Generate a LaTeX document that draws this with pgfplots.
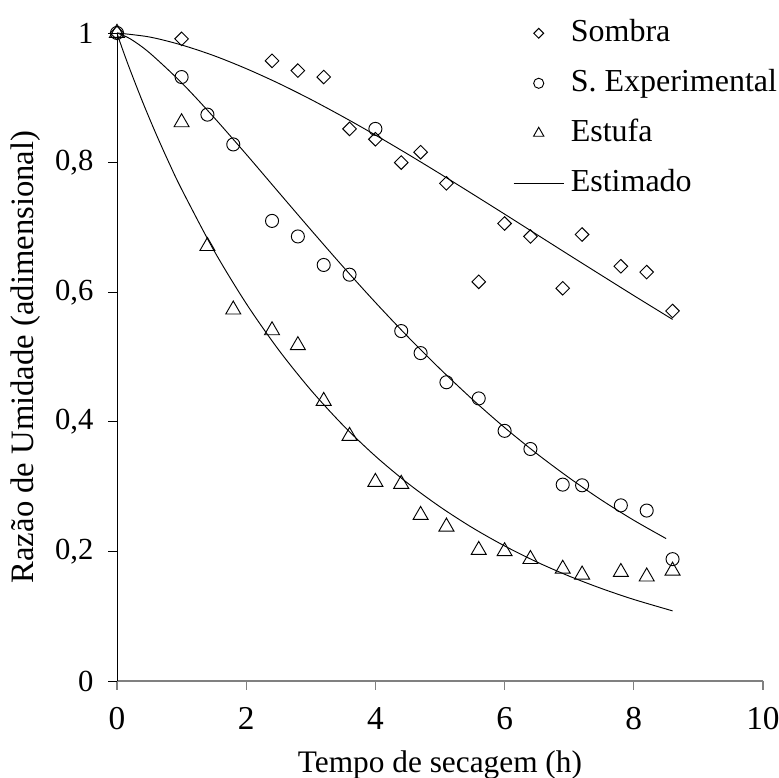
\documentclass[border=0pt]{standalone}
\usepackage{fontspec}
\setmainfont{Liberation Serif}
\usepackage{pgfplots}
\pgfplotsset{compat=1.18}

\pgfplotsset{
    legmarkA/.style={legend image code/.code={\draw[#1, mark size=2.6pt] plot coordinates {(18.75pt,0pt)};}},
    legmarkB/.style={legend image code/.code={\draw[#1, mark size=3.8pt] plot coordinates {(18.75pt,0pt)};}},
    legmarkC/.style={legend image code/.code={\draw[#1, mark size=4.5pt] plot coordinates {(18.75pt,0pt)};}},
    legline/.style={legend image code/.code={\draw[#1] plot coordinates {(0pt,0pt)(37.5pt,0pt)};}},
}

\begin{document}
\begin{tikzpicture}
\begin{axis}[
    scale only axis,
    width=484.5pt, height=486pt,
    xmin=0, xmax=10, ymin=0, ymax=1,
    axis lines*=left,
    x axis line style={draw=gray, line width=0.9pt},
    y axis line style={draw=black, line width=0.6pt},
    xtick={0,2,4,6,8,10},
    ytick={0,0.2,0.4,0.6,0.8,1},
    minor tick num=0,
    tick align=outside,
    major tick length=6.5pt,
    xtick style={draw=gray, line width=0.9pt},
    ytick style={draw=black, line width=0.6pt},
    /pgf/number format/.cd, use comma, fixed, assume math mode=true,
    /pgfplots/.cd,
    xticklabel style={font=\fontsize{25}{29}\selectfont, anchor=north, inner sep=0pt, yshift=-13pt},
    yticklabel style={font=\fontsize{23}{27}\selectfont, anchor=east, inner sep=0pt, xshift=-11pt},
    xlabel={Tempo de secagem (h)},
    ylabel={Razão de Umidade (adimensional)},
    xlabel style={font=\fontsize{23.5}{28}\selectfont, at={(axis description cs:0.5,-0.108)}, anchor=north, inner sep=0pt},
    ylabel style={font=\fontsize{24.5}{29}\selectfont, at={(axis description cs:-0.142,0.5)}, anchor=center, rotate=0, inner sep=0pt},
    clip=false,
    legend style={at={(rel axis cs:0.613,1.0267)}, anchor=north west,
        draw=none, fill=none, row sep=11.5pt, inner sep=0pt,
        font=\fontsize{24}{28}\selectfont,
        nodes={inner xsep=5pt, inner ysep=2pt, text height=17pt, text depth=5pt, anchor=west}},
    legend cell align=left,
]
% Sombra
\addplot[only marks, mark=square, mark size=3.6pt, mark options={rotate=45, line width=0.7pt, fill=white}, legmarkA]
coordinates {
(0,1) (1,0.991) (2.4,0.957) (2.8,0.942) (3.2,0.932) (3.6,0.852) (4,0.836)
(4.4,0.800) (4.7,0.816) (5.1,0.768) (5.6,0.616) (6,0.706) (6.4,0.686)
(6.9,0.606) (7.2,0.689) (7.8,0.640) (8.2,0.631) (8.6,0.571)
};
\addlegendentry{Sombra}
% S. Experimental
\addplot[only marks, mark=o, mark size=4.9pt, mark options={line width=0.7pt}, legmarkB]
coordinates {
(0,1) (1,0.932) (1.4,0.874) (1.8,0.828) (2.4,0.710) (2.8,0.686) (3.2,0.642)
(3.6,0.627) (4,0.852) (4.4,0.540) (4.7,0.506) (5.1,0.461) (5.6,0.436)
(6,0.386) (6.4,0.358) (6.9,0.303) (7.2,0.302) (7.8,0.271) (8.2,0.263) (8.6,0.188)
};
\addlegendentry{S. Experimental}
% Estufa
\addplot[only marks, mark=triangle, mark size=6.5pt, mark options={line width=0.7pt}, legmarkC]
coordinates {
(0,1) (1,0.862) (1.4,0.671) (1.8,0.573) (2.4,0.541) (2.8,0.518) (3.2,0.432)
(3.6,0.378) (4,0.307) (4.4,0.304) (4.7,0.256) (5.1,0.238) (5.6,0.202)
(6,0.200) (6.4,0.188) (6.9,0.173) (7.2,0.164) (7.8,0.168) (8.2,0.161) (8.6,0.170)
};
\addlegendentry{Estufa}
% Estimado
\addplot[black, line width=0.7pt, smooth, legline]
coordinates {
(0,1) (0.5,0.9939) (1,0.9815) (1.5,0.9650) (2,0.9450) (2.5,0.9224) (3,0.8975)
(3.5,0.8707) (4,0.8425) (4.5,0.8131) (5,0.7828) (5.5,0.7518) (6,0.7205)
(6.5,0.6889) (7,0.6573) (7.5,0.6260) (8,0.5948) (8.6,0.5580)
};
\addlegendentry{Estimado}
\addplot[black, line width=0.7pt, smooth, forget plot]
coordinates {
(0,1) (0.2,0.9913) (0.5,0.9697) (1,0.9232) (1.5,0.8698) (2,0.8129) (2.5,0.7545)
(3,0.6964) (3.5,0.6393) (4,0.5842) (4.5,0.5315) (5,0.4817) (5.5,0.4348)
(6,0.3911) (6.5,0.3507) (7,0.3135) (7.5,0.2792) (8,0.2480) (8.5,0.2198)
};
\addplot[black, line width=0.7pt, smooth, forget plot]
coordinates {
(0,1) (0.05,0.9850) (0.1,0.9709) (0.2,0.9438) (0.4,0.8928) (0.6,0.8453)
(0.8,0.8008) (1,0.7590) (1.5,0.6645) (2,0.5826) (2.5,0.5113) (3,0.4491)
(3.5,0.3946) (4,0.3470) (4.5,0.3053) (5,0.2688) (5.5,0.2366) (6,0.2084)
(6.5,0.1836) (7,0.1618) (7.5,0.1427) (8,0.1258) (8.6,0.1082)
};
\coordinate (bbA) at (rel axis cs:-0.1811,-0.1497);
\coordinate (bbB) at (rel axis cs:1.0248,1.0509);
\end{axis}
\pgfresetboundingbox
\path[use as bounding box] (bbA) rectangle (bbB);
\end{tikzpicture}
\end{document}
